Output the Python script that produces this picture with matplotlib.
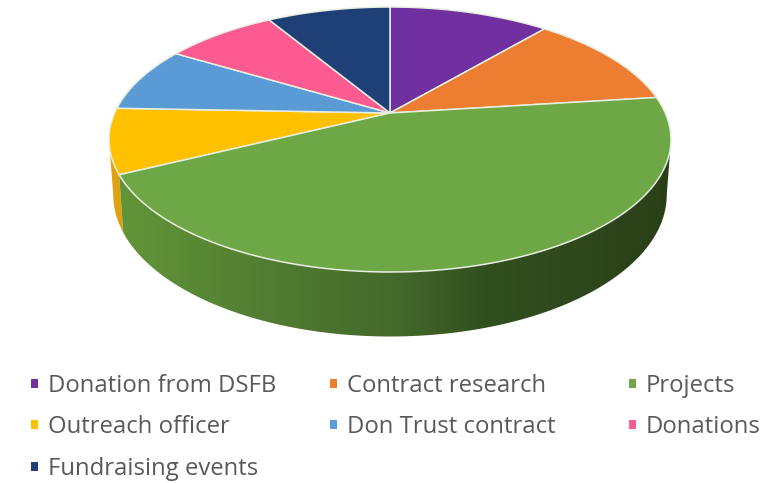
import numpy as np
import matplotlib
matplotlib.use("Agg")
import matplotlib.pyplot as plt
from matplotlib.colors import LinearSegmentedColormap
from matplotlib.patches import Polygon, Rectangle

# Income breakdown, percent of total, clockwise from 12 o'clock
labels = ["Donation from DSFB", "Contract research", "Projects", "Outreach officer",
          "Don Trust contract", "Donations", "Fundraising events"]
shares = [11.2, 11.8, 44.7, 7.9, 8.0, 7.8, 8.6]
colors = ["#7030a0", "#ed7d31", "#6ea846", "#ffc000", "#5b9bd5", "#fb5b91", "#1f3f77"]
side_yellow = "#e0a010"
side_stops = [(0.0, "#629639"), (0.33, "#4e7730"), (0.51, "#44682b"), (0.66, "#32501f"), (1.0, "#2a3f18")]

# legend layout, row by row
legend_x = [31, 330, 629]
legend_y = [392, 433, 475]

# perspective disc
cx, cy = 390, 113
rx, ry = 275.3, 127.2
persp = 0.2
depth = 53.5
shrink = 0.985


def rim(theta, lower=False):
    # theta in degrees clockwise from the top of the disc
    t = np.radians(theta)
    w = 1 + persp * np.cos(t)
    x = rx * np.sin(t) / w
    y = -ry * np.cos(t) / w
    if lower:
        return np.column_stack([cx + x * shrink, cy + y * shrink + depth / w])
    return np.column_stack([cx + x, cy + y])


fig = plt.figure(figsize=(7.63, 4.83), dpi=100)
ax = fig.add_axes([0, 0, 1, 1])

edges = 360 * np.cumsum([0] + shares) / sum(shares)
sil_right = 180 - np.degrees(np.arcsin(np.sqrt(1 - persp ** 2)))
sil_left = 360 - sil_right

# rim of the pie: the outreach sliver sits behind the projects wall
a = np.linspace(edges[3], sil_left, 40)
ax.add_patch(Polygon(np.vstack([rim(a), rim(a, True)[::-1]]), fc=side_yellow, ec="none", zorder=1))

a = np.linspace(sil_right, edges[3], 200)
wall = Polygon(np.vstack([rim(a), rim(a, True)[::-1]]), fc="none", ec="none", zorder=2)
ax.add_patch(wall)
cmap = LinearSegmentedColormap.from_list("wall", side_stops)
grad = ax.imshow(np.linspace(0, 1, 256)[None, :], cmap=cmap, vmin=0, vmax=1, aspect="auto",
                 extent=[115, 672, 483, 0], zorder=2)
grad.set_clip_path(wall)
ax.set_xlim(0, 763)
ax.set_ylim(483, 0)
ax.axis("off")

# top face
for i, color in enumerate(colors):
    a = np.linspace(edges[i], edges[i + 1], 120)
    ax.add_patch(Polygon(np.vstack([[cx, cy], rim(a)]), fc=color, ec="#e8efe0", lw=1.1,
                         joinstyle="round", zorder=3 + (i == 2)))

# legend
for i, name in enumerate(labels):
    col, row = i % 3, i // 3
    ax.add_patch(Rectangle((legend_x[col], legend_y[row] - 13), 7, 9, fc=colors[i], ec="none"))
    ax.text(legend_x[col] + 17, legend_y[row], name, fontsize=17.2, family="Open Sans",
            color="#595959", va="baseline", ha="left")

fig.savefig("out.png", dpi=100)
